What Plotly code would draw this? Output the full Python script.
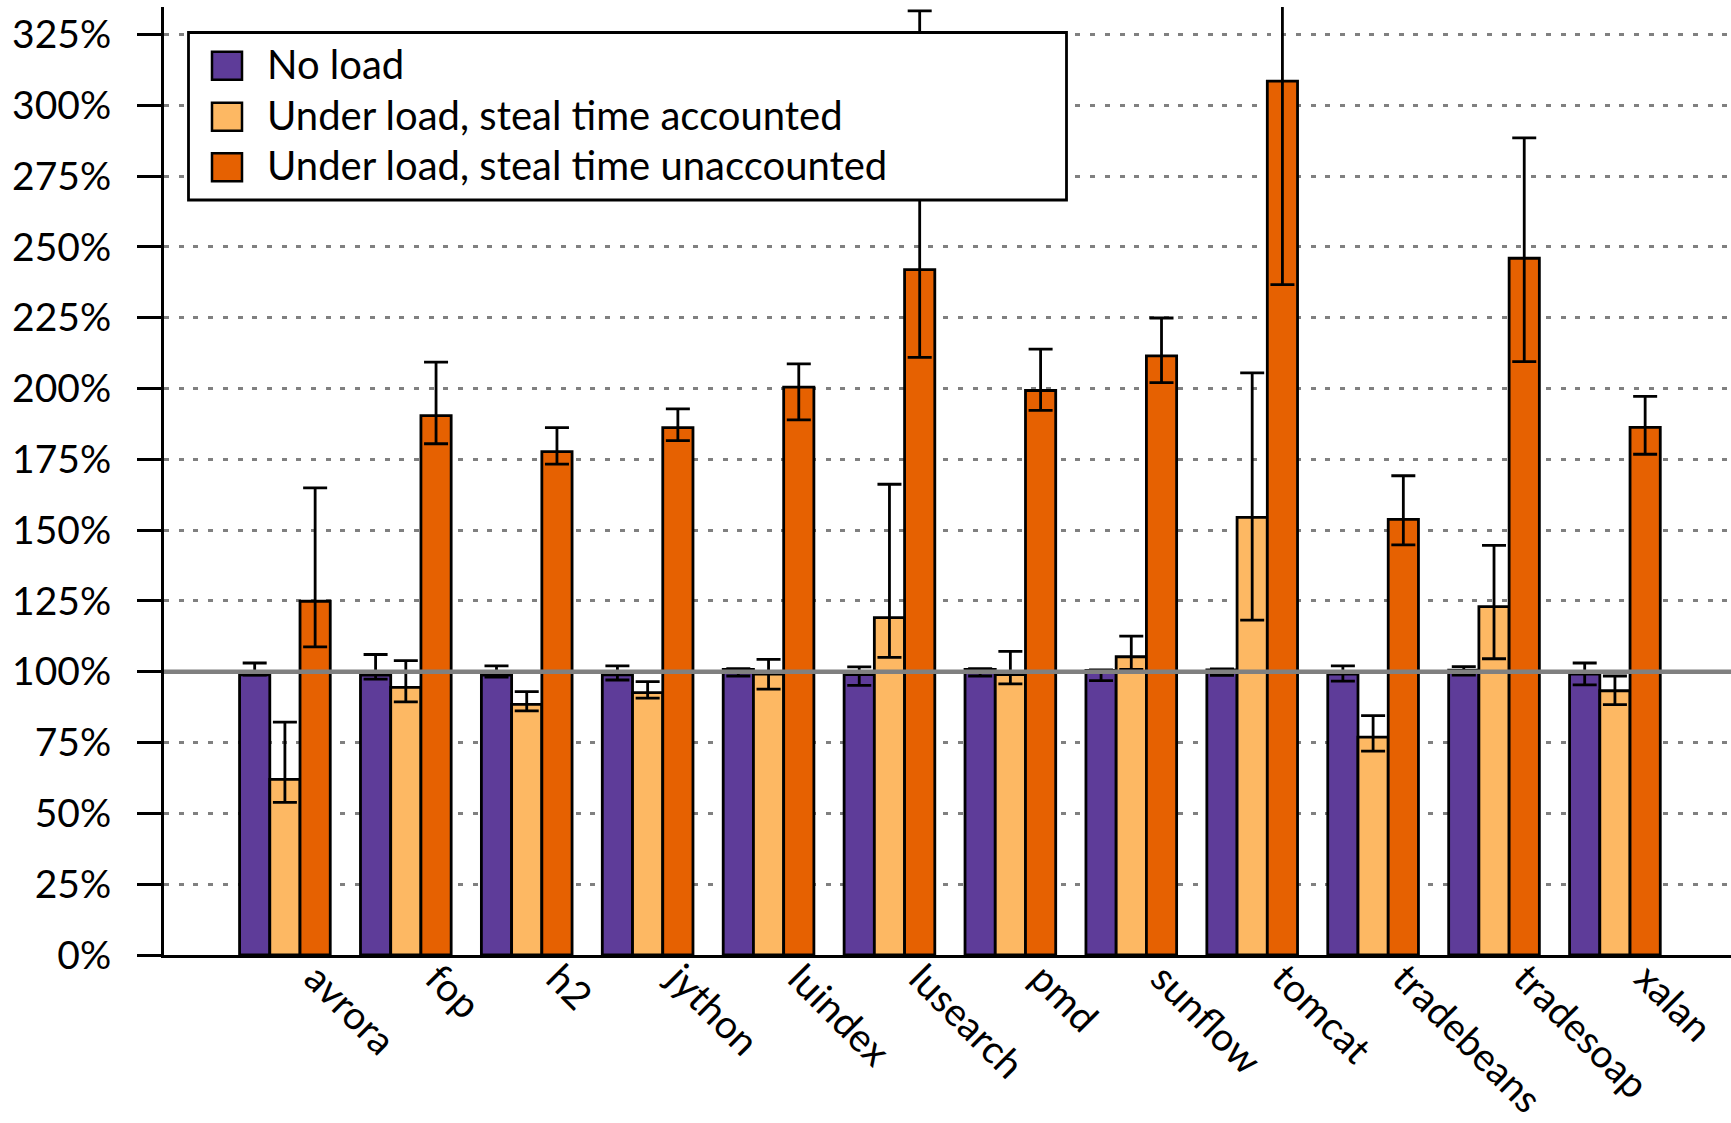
import plotly.graph_objects as go

benchmarks = ["avrora", "fop", "h2", "jython", "luindex", "lusearch", "pmd",
              "sunflow", "tomcat", "tradebeans", "tradesoap", "xalan"]

series_names = ["No load", "Under load, steal time accounted", "Under load, steal time unaccounted"]

# mean values (%)
no_load = [98.9, 98.8, 98.8, 98.9, 100.8, 99.0, 100.8, 100.5, 100.7, 99.2, 100.6, 99.2]
no_load_hi = [103.1, 106.1, 102.1, 102.1, 101.1, 101.7, 101.1, 100.7, 101.0, 102.1, 101.8, 103.1]
no_load_lo = [98.8, 97.4, 98.1, 97.1, 98.5, 95.2, 98.5, 96.9, 98.7, 96.7, 98.8, 95.4]

accounted = [62.0, 94.5, 88.5, 92.6, 99.2, 119.1, 99.0, 105.3, 154.5, 76.9, 123.0, 93.3]
accounted_hi = [82.2, 103.9, 93.0, 96.5, 104.4, 166.2, 107.2, 112.6, 205.5, 84.5, 144.6, 98.5]
accounted_lo = [53.9, 89.4, 86.2, 90.7, 93.9, 105.1, 95.7, 100.8, 118.2, 72.0, 104.6, 88.4]

unaccounted = [124.9, 190.4, 177.7, 186.2, 200.5, 242.0, 199.3, 211.5, 308.5, 153.8, 246.0, 186.3]
unaccounted_hi = [164.9, 209.3, 186.2, 192.8, 208.7, 333.3, 213.9, 224.9, 380.0, 169.2, 288.5, 197.2]
unaccounted_lo = [108.8, 180.5, 173.3, 181.6, 188.9, 211.0, 192.3, 202.1, 236.7, 144.8, 209.5, 176.8]

ytick_vals = list(range(0, 326, 25))
ytick_text = [f"{v}%" for v in ytick_vals]

colors = ["#5e3c99", "#fdb863", "#e66101"]
FONT = "Lato"

W, H = 1731, 1123
L, R, T, B = 164, 0, 7, 168
PW = W - L - R
PH = H - T - B


def px(xp):
    return (xp - L) / PW


def py(yp):
    return (H - B - yp) / PH


fig = go.Figure()
data = [(no_load, no_load_hi, no_load_lo),
        (accounted, accounted_hi, accounted_lo),
        (unaccounted, unaccounted_hi, unaccounted_lo)]
for name, (vals, hi, lo), col in zip(series_names, data, colors):
    fig.add_trace(go.Bar(
        x=benchmarks, y=vals, name=name, showlegend=False,
        marker=dict(color=col, line=dict(color="black", width=2.8)),
        error_y=dict(type="data", symmetric=False,
                     array=[h - v for h, v in zip(hi, vals)],
                     arrayminus=[v - l for v, l in zip(vals, lo)],
                     color="black", thickness=2.8, width=12),
    ))

shapes = []
# 100% reference line
shapes.append(dict(type="line", xref="paper", yref="y", x0=0, x1=1, y0=100, y1=100,
                   line=dict(color="#808080", width=4.5), layer="above"))
# manual legend box
shapes.append(dict(type="rect", xref="paper", yref="paper",
                   x0=px(188.5), x1=px(1066.5), y0=py(200), y1=py(32.5),
                   fillcolor="white", line=dict(color="black", width=2.8), layer="above"))
annotations = []
row_y = [65.7, 116.7, 167.3]
for name, col, yc in zip(series_names, colors, row_y):
    shapes.append(dict(type="rect", xref="paper", yref="paper",
                       x0=px(212), x1=px(242), y0=py(yc + 14), y1=py(yc - 14),
                       fillcolor=col, line=dict(color="black", width=2.5), layer="above"))
    annotations.append(dict(text=name, xref="paper", yref="paper", x=px(265), y=py(yc - 2),
                            xanchor="left", yanchor="middle", showarrow=False,
                            font=dict(family=FONT, size=40, color="black")))

fig.update_layout(
    width=W, height=H,
    margin=dict(l=L, r=R, t=T, b=B, pad=0),
    paper_bgcolor="white", plot_bgcolor="white",
    barmode="group", bargap=0.25, bargroupgap=0,
    shapes=shapes, annotations=annotations,
    showlegend=False,
    font=dict(family=FONT, size=38, color="black"),
)
fig.update_xaxes(
    range=[-1.0, 11.96], showline=True, linecolor="black", linewidth=3,
    ticks="", showgrid=False, tickangle=45, zeroline=False,
    ticklabelshift=31, ticklabelstandoff=-18,
    tickfont=dict(family=FONT, size=39, color="black"),
)
fig.update_yaxes(
    range=[0, 334.7], tickvals=ytick_vals, ticktext=ytick_text,
    showline=True, linecolor="black", linewidth=3,
    ticks="outside", ticklen=24, tickwidth=3, tickcolor="black",
    ticklabelstandoff=18,
    showgrid=True, gridcolor="#808080", gridwidth=3, griddash="5px,9.7px",
    zeroline=False,
    tickfont=dict(family=FONT, size=39, color="black"),
)

fig.write_html("out.html", config={"displayModeBar": False},
               post_script="document.body.style.margin='0px';document.body.style.overflow='hidden';")
